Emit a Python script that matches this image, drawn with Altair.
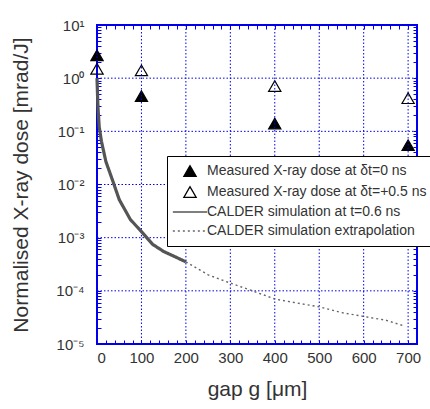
import altair as alt
import pandas as pd

# ---- data ----
gap_meas = [0, 100, 400, 700]
dose_dt0 = [2.7, 0.46, 0.14, 0.055]
dose_dt05 = [1.5, 1.4, 0.71, 0.42]

sim_gap = [0, 2, 5, 10, 20, 35, 50, 75, 100, 125, 150, 175, 200]
sim_dose = [1.0, 0.3, 0.12, 0.065, 0.027, 0.012, 0.0052, 0.0022, 0.0013,
            0.00075, 0.00055, 0.00044, 0.00035]

ext_gap = [200, 250, 300, 350, 400, 450, 500, 550, 600, 650, 690]
ext_dose = [3.5e-4, 2.0e-4, 1.4e-4, 1.0e-4, 7.0e-5, 5.9e-5, 5.0e-5, 3.9e-5,
            3.3e-5, 2.8e-5, 2.2e-5]

labels = ["Measured X-ray dose at δt=0 ns",
          "Measured X-ray dose at δt=+0.5 ns",
          "CALDER simulation at  t=0.6 ns",
          "CALDER simulation extrapolation"]

x_major = [0, 100, 200, 300, 400, 500, 600, 700]
y_major = [1e-5, 1e-4, 1e-3, 1e-2, 1e-1, 1.0, 10.0]
x_ticks = list(range(0, 720, 20))
y_ticks = [m * 10.0 ** e for e in range(-5, 1) for m in range(1, 10)] + [10.0]

meas = pd.DataFrame({
    "gap": gap_meas + gap_meas,
    "dose": dose_dt0 + dose_dt05,
    "series": [labels[0]] * len(gap_meas) + [labels[1]] * len(gap_meas),
})
sim = pd.DataFrame({"gap": sim_gap, "dose": sim_dose, "series": [labels[2]] * len(sim_gap)})
ext = pd.DataFrame({"gap": ext_gap, "dose": ext_dose, "series": [labels[3]] * len(ext_gap)})
gx = pd.DataFrame({"gap": x_major})
gy = pd.DataFrame({"dose": y_major})

BLUE = "#0000ee"
TXT = "#333333"
FONT = "Liberation Sans"

xs = alt.Scale(domain=[0, 720], nice=False, zero=False)
ys = alt.Scale(type="log", domain=[1e-5, 10], nice=False)

major_y = "abs(log(datum.value)/LN10 - round(log(datum.value)/LN10)) < 0.001"
y_label = ("(" + major_y + ") ? '10' + ['⁻⁵','⁻⁴','⁻³','⁻²','⁻¹','⁰','¹']"
           "[round(log(datum.value)/LN10)+5] : ''")

common = dict(domain=False, grid=False, offset=-4, tickSize=4, tickColor=BLUE,
              tickWidth=1, labelFont=FONT, labelFontSize=15, labelColor=TXT,
              titleFont=FONT, titleFontSize=21, titleColor=TXT,
              titleFontWeight="normal")

x_axis = alt.Axis(values=x_ticks, title="gap g [μm]",
                  labelExpr="datum.value % 100 == 0 ? datum.label : ''",
                  labelPadding=6, titlePadding=13, **common)
y_axis = alt.Axis(values=y_ticks, title="Normalised X-ray dose [mrad/J]",
                  labelExpr=y_label, labelPadding=13, titlePadding=24, **common)

dom = labels
leg = alt.Legend(title=None, orient="none", legendX=70, legendY=131,
                 strokeColor="black", fillColor="white", padding=8,
                 labelFont=FONT, labelFontSize=14, labelColor=TXT,
                 symbolSize=150, symbolOffset=8, labelOffset=10,
                 rowPadding=5, symbolStrokeWidth=1.3, labelLimit=400)
LINE_SYM = "M-2.8,0H2.8"
shape_sc = alt.Scale(domain=dom, range=["triangle-up", "triangle-up", LINE_SYM, LINE_SYM])
fill_sc = alt.Scale(domain=dom, range=["black", "transparent", "transparent", "transparent"])
stroke_sc = alt.Scale(domain=dom, range=["black", "black", "#555555", "#666666"])
dash_sc = alt.Scale(domain=dom, range=[[1, 0], [1, 0], [1, 0], [2, 3]])

grid_x = alt.Chart(gx).mark_rule(color=BLUE, strokeWidth=1, strokeDash=[1.5, 2]).encode(
    x=alt.X("gap:Q", scale=xs, axis=None))
grid_y = alt.Chart(gy).mark_rule(color=BLUE, strokeWidth=1, strokeDash=[1.5, 2]).encode(
    y=alt.Y("dose:Q", scale=ys, axis=None))

line_sim = alt.Chart(sim).mark_line(strokeWidth=3.2).encode(
    x=alt.X("gap:Q", scale=xs, axis=None),
    y=alt.Y("dose:Q", scale=ys, axis=None),
    stroke=alt.Stroke("series:N", scale=stroke_sc, legend=leg),
    strokeDash=alt.StrokeDash("series:N", scale=dash_sc, legend=leg),
)
line_ext = alt.Chart(ext).mark_line(strokeWidth=1.4).encode(
    x=alt.X("gap:Q", scale=xs, axis=None),
    y=alt.Y("dose:Q", scale=ys, axis=None),
    stroke=alt.Stroke("series:N", scale=stroke_sc, legend=leg),
    strokeDash=alt.StrokeDash("series:N", scale=dash_sc, legend=leg),
)

points = alt.Chart(meas).mark_point(opacity=1, strokeWidth=1.2, size=150).encode(
    x=alt.X("gap:Q", scale=xs, axis=x_axis),
    y=alt.Y("dose:Q", scale=ys, axis=y_axis),
    shape=alt.Shape("series:N", scale=shape_sc, legend=leg),
    fill=alt.Fill("series:N", scale=fill_sc, legend=leg),
    stroke=alt.Stroke("series:N", scale=stroke_sc, legend=leg),
    strokeDash=alt.StrokeDash("series:N", scale=dash_sc, legend=leg),
)

mirror_common = dict(labels=False, grid=False, domain=False, title=None,
                     offset=-4, tickSize=4, tickColor=BLUE, tickWidth=1)
mirror = alt.Chart(meas).mark_point(opacity=0).encode(
    x=alt.X("gap:Q", scale=xs, axis=alt.Axis(orient="top", values=x_ticks, **mirror_common)),
    y=alt.Y("dose:Q", scale=ys, axis=alt.Axis(orient="right", values=y_ticks, **mirror_common)),
)

chart = alt.layer(points, grid_x, grid_y, line_sim, line_ext, mirror).resolve_axis(
    x="independent", y="independent"
).properties(
    width=320, height=319,
    autosize=alt.AutoSizeParams(type="none"),
    padding={"left": 97, "top": 25, "right": 13, "bottom": 65},
    background="white",
).configure_view(
    stroke=BLUE, strokeWidth=2
)

chart.save("out.html", embed_options={"renderer": "svg", "actions": False})
